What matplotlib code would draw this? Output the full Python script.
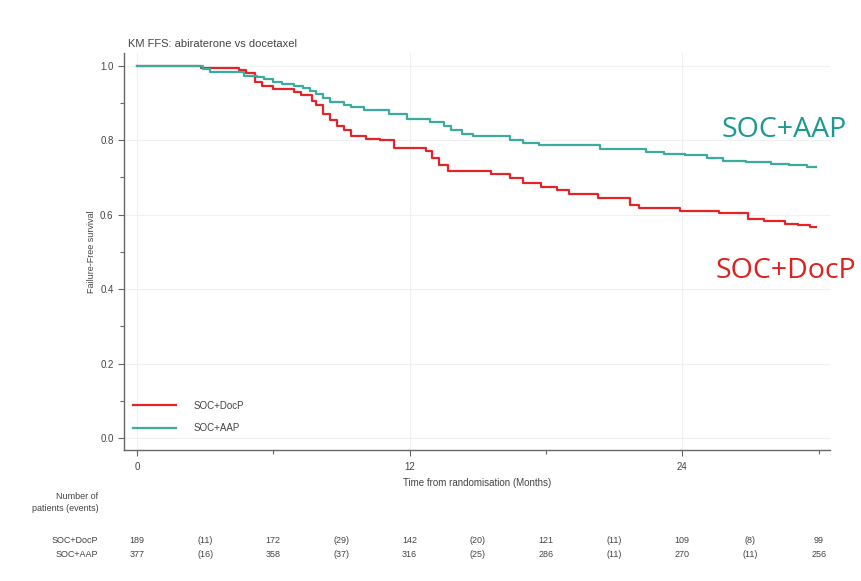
import matplotlib.pyplot as plt
import numpy as np

# Kaplan-Meier step points (months, failure-free survival)
docp_t = [0, 2.8, 4.5, 4.8, 5.2, 5.5, 6.0, 6.9, 7.2, 7.7, 7.9, 8.2, 8.5, 8.8, 9.1, 9.4,
          10.1, 10.7, 11.3, 12.7, 13.0, 13.3, 13.7, 15.6, 16.4, 17.0, 17.8, 18.5, 19.0,
          20.3, 21.7, 22.1, 23.9, 25.6, 26.9, 27.6, 28.5, 29.1, 29.6, 29.9]
docp_s = [1.0, 0.993, 0.987, 0.979, 0.955, 0.946, 0.938, 0.929, 0.920, 0.906, 0.893, 0.871,
          0.853, 0.839, 0.826, 0.812, 0.804, 0.799, 0.780, 0.772, 0.751, 0.732, 0.718, 0.710,
          0.697, 0.686, 0.673, 0.665, 0.654, 0.644, 0.625, 0.617, 0.609, 0.603, 0.587, 0.582,
          0.576, 0.571, 0.566, 0.566]

aap_t = [0, 2.9, 3.2, 4.7, 5.3, 5.6, 6.0, 6.4, 6.9, 7.3, 7.6, 7.9, 8.2, 8.5, 9.1, 9.4,
         10.0, 11.1, 11.9, 12.9, 13.5, 13.8, 14.3, 14.8, 16.4, 17.0, 17.7, 20.4, 22.4, 23.2,
         24.1, 25.1, 25.8, 26.8, 27.9, 28.7, 29.5, 29.9]
aap_s = [1.0, 0.992, 0.983, 0.973, 0.969, 0.964, 0.957, 0.951, 0.946, 0.941, 0.933, 0.925,
         0.912, 0.901, 0.895, 0.888, 0.882, 0.871, 0.857, 0.848, 0.839, 0.828, 0.817, 0.810,
         0.801, 0.791, 0.788, 0.777, 0.767, 0.764, 0.759, 0.753, 0.745, 0.740, 0.737, 0.732,
         0.727, 0.727]

# number at risk and (events) between time points
risk_times = [0, 3, 6, 9, 12, 15, 18, 21, 24, 27, 30]
docp_risk = ["189", "(11)", "172", "(29)", "142", "(20)", "121", "(11)", "109", "(8)", "99"]
aap_risk = ["377", "(16)", "358", "(37)", "316", "(25)", "286", "(11)", "270", "(11)", "256"]

red = "#e3242b"
teal = "#3aab9d"
grey = "#444444"

plt.rcParams['font.family'] = ['Liberation Sans', 'DejaVu Sans']

fig = plt.figure(figsize=(8.61, 5.81), dpi=100)
ax = fig.add_axes([0.144, 0.2255, 0.82, 0.684])

ax.step(docp_t, docp_s, where='post', color=red, lw=1.6, label="SOC+DocP")
ax.step(aap_t, aap_s, where='post', color=teal, lw=1.6, label="SOC+AAP")

ax.set_xlim(-0.57, 30.5)
ax.set_ylim(-0.032, 1.035)
ax.set_xticks([0, 12, 24])
ax.set_xticks([6, 18, 30], minor=True)
ax.set_yticks([0, 0.2, 0.4, 0.6, 0.8, 1.0])
ax.set_yticklabels(["0.0", "0.2", "0.4", "0.6", "0.8", "1.0"])
ax.set_yticks([0.1, 0.3, 0.5, 0.7, 0.9], minor=True)
ax.tick_params(axis='both', which='both', colors="#666666", labelcolor=grey,
               labelsize=7, length=4, width=0.8)
ax.tick_params(axis='x', which='major', pad=5)
ax.tick_params(axis='both', which='minor', length=3)

for s in ['top', 'right']:
    ax.spines[s].set_visible(False)
for s in ['left', 'bottom']:
    ax.spines[s].set_color("#666666")
    ax.spines[s].set_linewidth(1.0)

ax.grid(True, which='major', color="#f0f0f0", lw=0.8)
ax.set_axisbelow(True)

ax.set_xlabel("Time from randomisation (Months)", fontsize=7, color=grey, labelpad=4)
ax.set_ylabel("Failure-Free survival", fontsize=6.5, color=grey, labelpad=3)
fig.text(0.149, 0.919, "KM FFS: abiraterone vs docetaxel", fontsize=8, color=grey)

leg = ax.legend(loc='lower left', bbox_to_anchor=(0.0, 0.02), frameon=False, fontsize=7,
                handlelength=4.5, handletextpad=1.8, labelspacing=1.3, labelcolor=grey)

# big curve labels on the right
fig.text(0.838, 0.776, "SOC+AAP", color="#1c9a92", fontsize=20.5, va='center',
         family=['Open Sans', 'DejaVu Sans'])
fig.text(0.831, 0.534, "SOC+DocP", color="#e0201f", fontsize=20.5, va='center',
         family=['Open Sans', 'DejaVu Sans'])

# number-at-risk table under the axis
fig.text(0.114, 0.135, "Number of\npatients (events)", fontsize=6.5, color=grey,
         ha='right', va='center', linespacing=1.5)
fig.text(0.114, 0.069, "SOC+DocP", fontsize=6.5, color=grey, ha='right', va='center')
fig.text(0.114, 0.046, "SOC+AAP", fontsize=6.5, color=grey, ha='right', va='center')
for t, d, a in zip(risk_times, docp_risk, aap_risk):
    x_fig = fig.transFigure.inverted().transform(ax.transData.transform((t, 0)))[0]
    fig.text(x_fig, 0.069, d, fontsize=6.5, color=grey, ha='center', va='center')
    fig.text(x_fig, 0.046, a, fontsize=6.5, color=grey, ha='center', va='center')

fig.savefig("out.png", dpi=100)
